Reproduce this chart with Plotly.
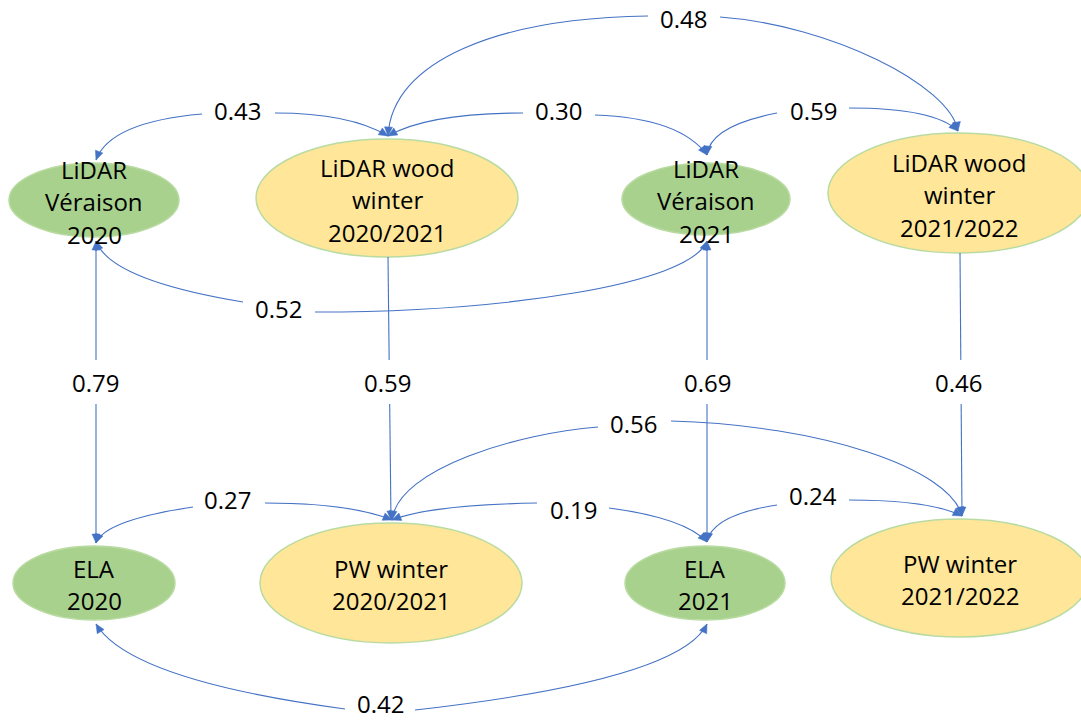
import math
import plotly.graph_objects as go

# ---------------- data ----------------
node_ids = ["lv20", "ww20", "lv21", "ww21", "ela20", "pw20", "ela21", "pw21"]
node_text = {
    "lv20": ["LiDAR", "Véraison", "2020"],
    "ww20": ["LiDAR wood", "winter", "2020/2021"],
    "lv21": ["LiDAR", "Véraison", "2021"],
    "ww21": ["LiDAR wood", "winter", "2021/2022"],
    "ela20": ["ELA", "2020"],
    "pw20": ["PW winter", "2020/2021"],
    "ela21": ["ELA", "2021"],
    "pw21": ["PW winter", "2021/2022"],
}
node_kind = {"lv20": "g", "ww20": "y", "lv21": "g", "ww21": "y",
             "ela20": "g", "pw20": "y", "ela21": "g", "pw21": "y"}

edge_values = ["0.48", "0.43", "0.30", "0.59", "0.52", "0.79", "0.59",
               "0.69", "0.46", "0.56", "0.27", "0.19", "0.24", "0.42"]

# ---------------- layout geometry (pixels) ----------------
node_geom = {  # cx, cy, rx, ry
    "lv20": (94, 200, 85, 37), "ww20": (387, 198, 131, 59),
    "lv21": (706, 199, 84, 36), "ww21": (959, 193, 131, 60),
    "ela20": (94, 583, 81, 37), "pw20": (391, 583, 131, 60),
    "ela21": (705, 583, 80, 37), "pw21": (960, 578, 129, 59),
}
text_dy = 1.5
line_gap = 32.5

# curved edges: label position and halves (start at label end, finish at node tip)
curve_geom = {
    0: ((683, 18), [[(648, 16), (500, 18), (392, 60), (388, 136)],
                    [(720, 17), (830, 25), (950, 85), (958, 131)]]),
    1: ((237, 110), [[(202, 114), (110, 122), (96, 160)],
                     [(275, 113), (350, 113), (388, 136)]]),
    2: ((558, 110), [[(523, 113), (428, 113), (388, 136)],
                     [(595, 115), (680, 118), (707, 155)]]),
    3: ((813, 110), [[(777, 113), (710, 126), (707, 155)],
                     [(849, 108), (935, 108), (958, 131)]]),
    4: ((278, 308), [[(243, 302), (110, 280), (96, 241)],
                     [(315, 312), (500, 312), (690, 285), (707, 241)]]),
    9: ((633, 423), [[(598, 427), (520, 433), (398, 468), (392, 520)],
                     [(671, 421), (820, 425), (950, 468), (962, 516)]]),
    10: ((227, 499), [[(193, 507), (105, 520), (96, 543)],
                      [(265, 503), (350, 503), (392, 520)]]),
    11: ((573, 509), [[(537, 503), (430, 505), (392, 520)],
                      [(609, 508), (685, 518), (707, 542)]]),
    12: ((813, 495), [[(777, 505), (712, 515), (707, 542)],
                      [(849, 500), (930, 500), (962, 516)]]),
    13: ((380, 703), [[(345, 709), (130, 680), (96, 624)],
                      [(415, 710), (680, 680), (707, 624)]]),
}
# straight vertical edges: label, start, end, arrow at start, arrow at end
line_geom = {
    5: ((95, 382), (96, 241), (96, 543), True, True),
    6: ((387, 382), (388, 257), (391, 520), False, True),
    7: ((707, 382), (707, 241), (707, 542), True, True),
    8: ((958, 382), (960, 253), (962, 516), False, True),
}

BLUE = "#4472C4"
GREEN = "#A9D18E"
YELLOW = "#FFE699"
OUTLINE = "#B9DBA2"
FONT = "Open Sans"
FS = 24

shapes = []
annotations = []


def arrowhead(tip, frm, L=9, W=8):
    dx, dy = tip[0] - frm[0], tip[1] - frm[1]
    n = math.hypot(dx, dy)
    ux, uy = dx / n, dy / n
    bx, by = tip[0] - L * ux, tip[1] - L * uy
    px, py = -uy, ux
    p1 = (bx + W / 2 * px, by + W / 2 * py)
    p2 = (bx - W / 2 * px, by - W / 2 * py)
    path = f"M {tip[0]} {tip[1]} L {p1[0]:.2f} {p1[1]:.2f} L {p2[0]:.2f} {p2[1]:.2f} Z"
    return dict(type="path", path=path, xref="x", yref="y",
                fillcolor=BLUE, line=dict(color=BLUE, width=0.5), layer="above")


# nodes
for nid in node_ids:
    cx, cy, rx, ry = node_geom[nid]
    shapes.append(dict(type="circle", xref="x", yref="y",
                       x0=cx - rx, x1=cx + rx, y0=cy - ry, y1=cy + ry,
                       fillcolor=GREEN if node_kind[nid] == "g" else YELLOW,
                       line=dict(color=OUTLINE, width=1.5), layer="below"))
    lines = node_text[nid]
    n = len(lines)
    for i, t in enumerate(lines):
        y = cy + text_dy + (i - (n - 1) / 2) * line_gap
        annotations.append(dict(x=cx, y=y, xref="x", yref="y", text=t,
                                showarrow=False, xanchor="center", yanchor="middle",
                                font=dict(family=FONT, size=FS, color="black")))

# curved edges
for idx, (lab, halves) in curve_geom.items():
    for h in halves:
        if len(h) == 3:
            p = f"M {h[0][0]} {h[0][1]} Q {h[1][0]} {h[1][1]} {h[2][0]} {h[2][1]}"
        else:
            p = (f"M {h[0][0]} {h[0][1]} C {h[1][0]} {h[1][1]} "
                 f"{h[2][0]} {h[2][1]} {h[3][0]} {h[3][1]}")
        shapes.append(dict(type="path", path=p, xref="x", yref="y",
                           line=dict(color=BLUE, width=1.1), layer="above"))
        shapes.append(arrowhead(h[-1], h[-2]))
    annotations.append(dict(x=lab[0], y=lab[1], xref="x", yref="y",
                            text=edge_values[idx], showarrow=False,
                            xanchor="center", yanchor="middle",
                            font=dict(family=FONT, size=FS, color="black")))

# straight edges
for idx, (lab, a, b, arr_a, arr_b) in line_geom.items():
    gap = 22
    ta = (lab[1] - gap - a[1]) / (b[1] - a[1])
    tb = (lab[1] + gap - a[1]) / (b[1] - a[1])
    m1 = (a[0] + ta * (b[0] - a[0]), lab[1] - gap)
    m2 = (a[0] + tb * (b[0] - a[0]), lab[1] + gap)
    for s, e in ((a, m1), (m2, b)):
        shapes.append(dict(type="line", xref="x", yref="y", x0=s[0], y0=s[1],
                           x1=e[0], y1=e[1], line=dict(color=BLUE, width=1.1),
                           layer="above"))
    if arr_a:
        shapes.append(arrowhead(a, b))
    if arr_b:
        shapes.append(arrowhead(b, a))
    annotations.append(dict(x=lab[0], y=lab[1], xref="x", yref="y",
                            text=edge_values[idx], showarrow=False,
                            xanchor="center", yanchor="middle",
                            font=dict(family=FONT, size=FS, color="black")))

fig = go.Figure()
fig.add_trace(go.Scatter(x=[0, 1081], y=[0, 720], mode="markers",
                         marker=dict(opacity=0), hoverinfo="skip", showlegend=False))
fig.update_layout(
    width=1081, height=720, margin=dict(l=0, r=0, t=0, b=0),
    paper_bgcolor="white", plot_bgcolor="white",
    xaxis=dict(range=[0, 1081], visible=False, fixedrange=True),
    yaxis=dict(range=[720, 0], visible=False, fixedrange=True),
    shapes=shapes, annotations=annotations, showlegend=False,
)
fig.write_html("out.html", config=dict(displayModeBar=False),
               post_script="document.body.style.margin='0px';document.body.style.overflow='hidden';")
